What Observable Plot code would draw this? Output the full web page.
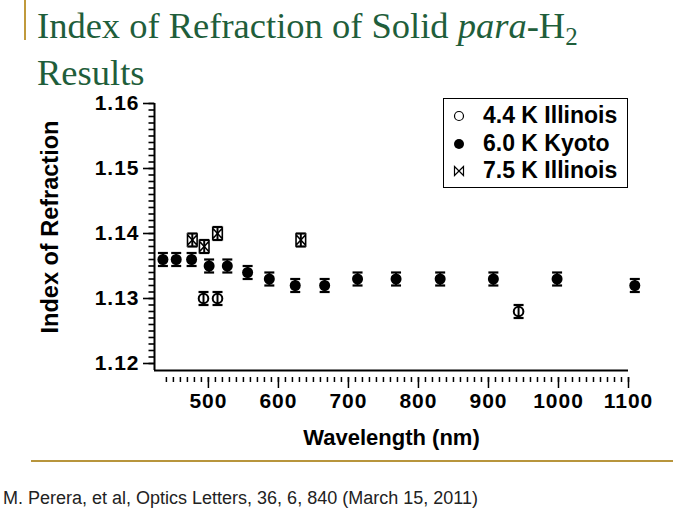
<!DOCTYPE html>
<html><head><meta charset="utf-8">
<script src="https://cdn.jsdelivr.net/npm/d3@7"></script>
<script src="https://cdn.jsdelivr.net/npm/@observablehq/plot@0.6"></script>
<style>
body{margin:0;background:#fff;}
#wrap{position:relative;width:673px;height:525px;overflow:hidden;background:#fff;}
.vbar{position:absolute;left:24px;top:0;width:2px;height:40px;background:#c09a3c;}
.hbar{position:absolute;left:31px;top:460px;width:642px;height:2px;background:#b8953c;}
.title{position:absolute;left:37px;font-family:"Liberation Serif","Times New Roman",serif;font-size:36.5px;line-height:36px;color:#1f5e3b;white-space:nowrap;}
.title sub{font-size:25px;vertical-align:-7px;line-height:0;}
#chart{position:absolute;left:0;top:90px;}
#chart g[aria-label$="tick label"]{letter-spacing:1px;}
#legend{position:absolute;left:443px;top:98px;width:183px;height:88px;border:1.6px solid #000;font-family:"Liberation Sans",Arial,sans-serif;font-weight:bold;font-size:23px;}
#legend .row{position:absolute;left:0;height:26px;line-height:26px;white-space:nowrap;}
#legend svg{position:absolute;left:8px;top:7px;}
#legend span{position:absolute;left:39px;}
#caption{position:absolute;left:3px;top:488px;font-family:"Liberation Sans",Arial,sans-serif;font-size:18px;color:#222;white-space:nowrap;}
</style></head><body>
<div id="wrap">
  <div class="vbar"></div>
  <div class="title" style="top:8px">Index of Refraction of Solid <i>para</i>-H<sub>2</sub></div>
  <div class="title" style="top:55px">Results</div>
  <div id="chart"></div>
  <div id="legend"></div>
  <div class="hbar"></div>
  <div id="caption">M. Perera, et al, Optics Letters, 36, 6, 840 (March 15, 2011)</div>
</div>
<script>
// ---- data ----
const seriesNames = ["4.4 K Illinois", "6.0 K Kyoto", "7.5 K Illinois"];

const kyotoWl  = [435, 454, 476, 501, 527, 556, 587, 624, 666, 713, 768, 831, 907, 998, 1109];
const kyotoN   = [1.136, 1.136, 1.136, 1.135, 1.135, 1.134, 1.133, 1.132, 1.132, 1.133, 1.133, 1.133, 1.133, 1.133, 1.132];
const kyotoErr = [0.001, 0.001, 0.001, 0.001, 0.001, 0.001, 0.001, 0.001, 0.001, 0.001, 0.001, 0.001, 0.001, 0.001, 0.001];

const ill44Wl  = [493, 513, 943];
const ill44N   = [1.130, 1.130, 1.128];
const ill44Err = [0.001, 0.001, 0.001];

const ill75Wl  = [477, 494, 513, 632];
const ill75N   = [1.139, 1.138, 1.140, 1.139];
const ill75Err = [0.001, 0.001, 0.001, 0.001];

const xDomain = [423, 1100];
const yDomain = [1.12, 1.16];
const xMajorTicks = [500, 600, 700, 800, 900, 1000, 1100];
const xMinorTicks = d3.range(440, 1101, 10);
const yMajorTicks = [1.12, 1.13, 1.14, 1.15, 1.16];
const yMinorTicks = d3.range(1120, 1161, 1).map(v => v / 1000);
const xLabel = "Wavelength (nm)";
const yLabel = "Index of Refraction";

// ---- tables ----
const mk = (wl, n, e) => wl.map((w, i) => ({w, n: n[i], e: e[i]}));
const kyoto = mk(kyotoWl, kyotoN, kyotoErr);
const ill44 = mk(ill44Wl, ill44N, ill44Err);
const ill75 = mk(ill75Wl, ill75N, ill75Err);
const all = [...kyoto, ...ill44, ...ill75];

const capSym = {draw(ctx) { ctx.moveTo(-5, 0); ctx.lineTo(5, 0); }};
const leftTick = {draw(ctx) { ctx.moveTo(-6, 0); ctx.lineTo(0, 0); }};
const bowtie = {draw(ctx) { const w = 4.8, h = 5.2; ctx.moveTo(-w, -h); ctx.lineTo(-w, h); ctx.lineTo(w, -h); ctx.lineTo(w, h); ctx.closePath(); }};

const chart = Plot.plot({
  width: 673, height: 370,
  marginLeft: 154, marginRight: 45, marginTop: 13, marginBottom: 90,
  x: {domain: xDomain},
  y: {domain: yDomain, range: [273, 13]},
  style: {fontFamily: "'Liberation Sans', Arial, sans-serif", fontWeight: "bold", fontSize: "21px", color: "#000", background: "white", overflow: "visible"},
  marks: [
    // axes lines
    Plot.ruleX([xDomain[0]], {y1: yDomain[1], y2: yDomain[0], strokeWidth: 2, insetBottom: -7}),
    Plot.ruleY([yDomain[0]], {x1: xDomain[0], x2: xDomain[1], dy: 7, strokeWidth: 2}),
    Plot.axisX({ticks: xMinorTicks, tickSize: 5, text: null, label: null, strokeWidth: 1.5, dy: 7}),
    Plot.axisX({ticks: xMajorTicks, tickSize: 11, tickPadding: 5, tickFormat: d => String(d), label: null, strokeWidth: 1.5, dy: 7}),
    Plot.dot(yMinorTicks, {y: d => d, frameAnchor: "left", symbol: leftTick, stroke: "black", strokeWidth: 1.6}),
    Plot.axisY({ticks: yMajorTicks, tickSize: 11, tickPadding: 4, tickFormat: d3.format(".2f"), label: null, strokeWidth: 1.6}),
    Plot.text([xLabel], {frameAnchor: "bottom", text: d => d, dy: 74, fontSize: 22, fontWeight: "bold"}),
    Plot.text([yLabel], {frameAnchor: "left", textAnchor: "middle", text: d => d, rotate: -90, dx: -104, dy: -10, fontSize: 23.5, fontWeight: "bold"}),
    // error bars
    Plot.ruleX(all, {x: "w", y1: d => d.n - d.e, y2: d => d.n + d.e, strokeWidth: 2, stroke: "black"}),
    Plot.dot(all, {x: "w", y: d => d.n + d.e, symbol: capSym, stroke: "black", strokeWidth: 2.2}),
    Plot.dot(all, {x: "w", y: d => d.n - d.e, symbol: capSym, stroke: "black", strokeWidth: 2.2}),
    // points
    Plot.dot(kyoto, {x: "w", y: "n", r: 5.5, fill: "black", stroke: "none"}),
    Plot.dot(ill44, {x: "w", y: "n", r: 4.8, fill: "none", stroke: "black", strokeWidth: 2}),
    Plot.dot(ill75, {x: "w", y: "n", symbol: bowtie, fill: "none", stroke: "black", strokeWidth: 1.6})
  ]
});
document.getElementById("chart").appendChild(chart);

// ---- legend ----
const legendSyms = [
  `<svg width="14" height="14"><circle cx="7" cy="7" r="4.5" fill="none" stroke="#000" stroke-width="1.2"/></svg>`,
  `<svg width="14" height="14"><circle cx="7" cy="7" r="5" fill="#000"/></svg>`,
  `<svg width="14" height="14"><path d="M2.5,2.5V11.5L11.5,2.5V11.5Z" fill="none" stroke="#000" stroke-width="1.2"/></svg>`
];
const lg = document.getElementById("legend");
seriesNames.forEach((name, i) => {
  const row = document.createElement("div");
  row.className = "row";
  row.style.top = (3 + i * 27.5) + "px";
  row.innerHTML = legendSyms[i] + `<span>${name}</span>`;
  lg.appendChild(row);
});
</script>
</body></html>
